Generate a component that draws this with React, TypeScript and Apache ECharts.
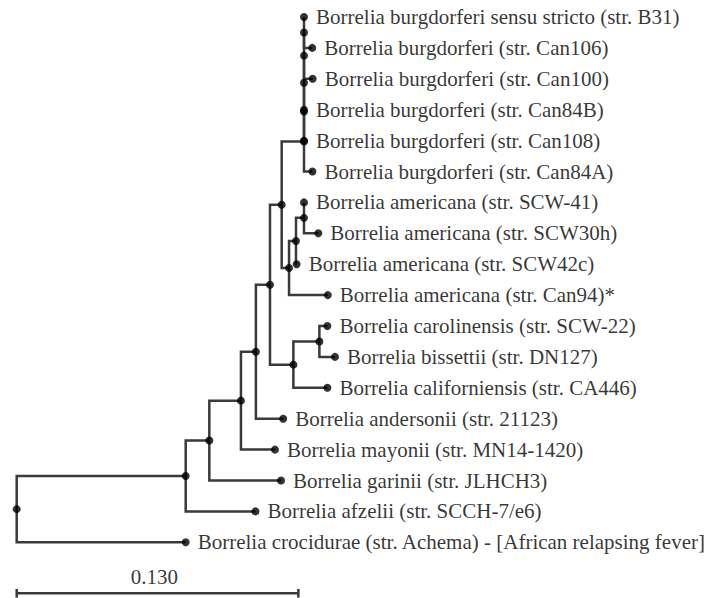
import React, { useEffect, useRef } from "react";
import * as echarts from "echarts";

// Tree topology: parent index of each node (-1 = root), in drawing order
const nodeParent = [
  -1, 0, 1, 2, 3, 4, 5, 6, 7, 8, 9, 10, 11, 11, 10, 9, 8, 7, 6, 18, 19, 20, 20, 19, 18, 5, 25, 26, 26, 25, 4, 3, 2, 1, 0,
];
// Branch length from parent (substitutions per site)
const branchLength = [
  0, 0.078, 0.0109, 0.0146, 0.0069, 0.0065, 0.0054, 0.0103, 0, 0, 0, 0, 0, 0.0038, 0.004, 0, 0, 0.0039, 0.0034, 0.0032,
  0.0037, 0, 0.0066, 0.0003, 0.0179, 0.0108, 0.012, 0.0037, 0.0072, 0.0157, 0.0126, 0.0157, 0.0331, 0.0322, 0.078,
];
// Leaf labels (empty for internal nodes)
const nodeLabel = [
  "", "", "", "", "", "", "", "", "", "", "", "",
  "Borrelia burgdorferi sensu stricto (str. B31)",
  "Borrelia burgdorferi (str. Can106)",
  "Borrelia burgdorferi (str. Can100)",
  "Borrelia burgdorferi (str. Can84B)",
  "Borrelia burgdorferi (str. Can108)",
  "Borrelia burgdorferi (str. Can84A)",
  "", "", "",
  "Borrelia americana (str. SCW-41)",
  "Borrelia americana (str. SCW30h)",
  "Borrelia americana (str. SCW42c)",
  "Borrelia americana (str. Can94)*",
  "", "",
  "Borrelia carolinensis (str. SCW-22)",
  "Borrelia bissettii (str. DN127)",
  "Borrelia californiensis (str. CA446)",
  "Borrelia andersonii (str. 21123)",
  "Borrelia mayonii (str. MN14-1420)",
  "Borrelia garinii (str. JLHCH3)",
  "Borrelia afzelii (str. SCCH-7/e6)",
  "Borrelia crocidurae (str. Achema) - [African relapsing fever]",
];
const scaleBarLength = 0.13;

function layoutTree() {
  const n = nodeParent.length;
  const children: number[][] = Array.from({ length: n }, () => []);
  for (let i = 0; i < n; i++) if (nodeParent[i] >= 0) children[nodeParent[i]].push(i);
  const xs = new Array(n).fill(0);
  const ys = new Array(n).fill(0);
  let leafIdx = 0;
  const visit = (i: number, depth: number) => {
    xs[i] = depth;
    if (children[i].length === 0) {
      ys[i] = leafIdx++;
      return;
    }
    for (const c of children[i]) visit(c, depth + branchLength[c]);
    const f = children[i][0];
    const l = children[i][children[i].length - 1];
    ys[i] = (ys[f] + ys[l]) / 2;
  };
  const root = nodeParent.indexOf(-1);
  visit(root, 0);
  return { children, xs, ys, leafCount: leafIdx };
}

export default function App() {
  const ref = useRef<HTMLDivElement>(null);
  useEffect(() => {
    document.body.style.margin = "0";
    if (!ref.current) return;
    const chart = echarts.init(ref.current, undefined, { renderer: "svg" });
    const { children, xs, ys, leafCount } = layoutTree();
    const edges: any[] = [];
    for (let i = 0; i < nodeParent.length; i++) {
      const p = nodeParent[i];
      if (p < 0) continue;
      edges.push({ coords: [[xs[p], ys[p]], [xs[p], ys[i]], [xs[i], ys[i]]] });
    }
    const barY = leafCount - 1 + 1.65;
    edges.push({ coords: [[0, barY], [scaleBarLength, barY]] });
    edges.push({ coords: [[0, barY - 0.14], [0, barY + 0.14]] });
    edges.push({ coords: [[scaleBarLength, barY - 0.14], [scaleBarLength, barY + 0.14]] });

    const font = { fontFamily: "Liberation Serif", fontSize: 21, color: "#000" };
    const points = nodeParent.map((_, i) => ({
      value: [xs[i], ys[i]],
      name: nodeLabel[i],
      label: { show: children[i].length === 0 },
    }));

    const yMax = 18.8;
    const rowPx = 30.9;
    chart.setOption({
      animation: false,
      grid: { left: 16.7, top: 17, width: 650, height: yMax * rowPx },
      xAxis: { type: "value", min: 0, max: 0.3, show: false },
      yAxis: { type: "value", min: 0, max: yMax, inverse: true, show: false },
      series: [
        {
          type: "lines",
          coordinateSystem: "cartesian2d",
          polyline: true,
          silent: true,
          lineStyle: { color: "#3a3a3a", width: 2.5, opacity: 1 },
          data: edges,
        },
        {
          type: "scatter",
          symbol: "circle",
          symbolSize: 8,
          silent: true,
          itemStyle: { color: "#000" },
          label: { position: "right", distance: 8, formatter: "{b}", ...font },
          data: points,
        },
        {
          type: "scatter",
          symbolSize: 0,
          silent: true,
          label: { show: true, position: "inside", formatter: scaleBarLength.toFixed(3), ...font },
          data: [[scaleBarLength / 2 - 0.0015, leafCount - 1 + 1.12]],
        },
      ],
    });
    return () => chart.dispose();
  }, []);
  return <div ref={ref} style={{ width: 712, height: 598 }} />;
}
